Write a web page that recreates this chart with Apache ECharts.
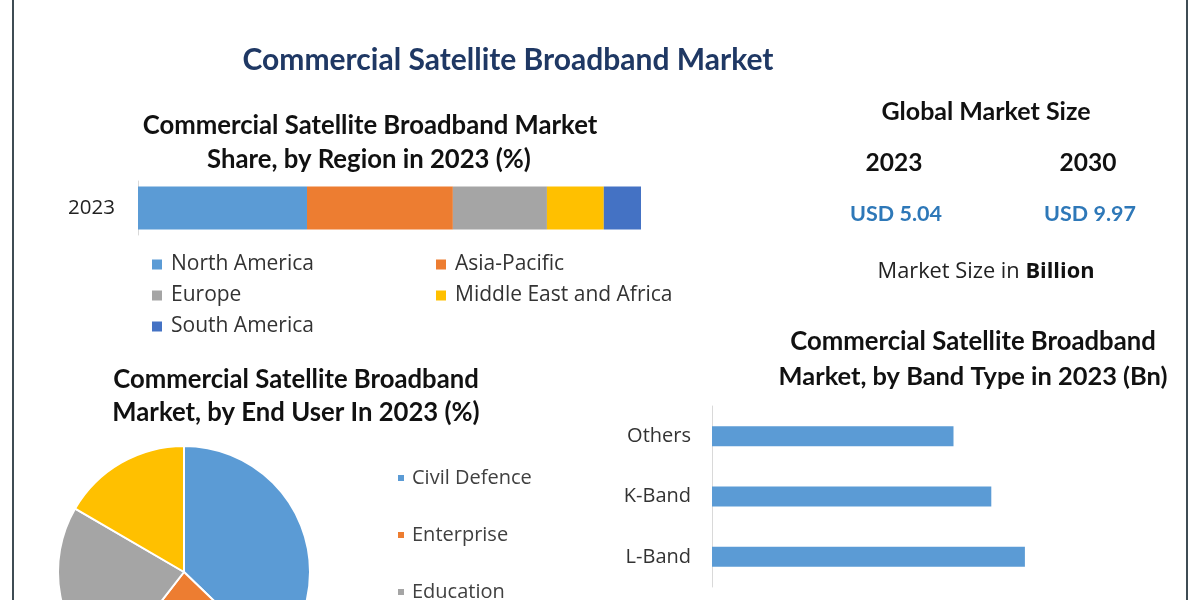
<!DOCTYPE html>
<html>
<head>
<meta charset="utf-8">
<title>Commercial Satellite Broadband Market</title>
<script src="https://cdn.jsdelivr.net/npm/echarts@6/dist/echarts.min.js"></script>
<style>
    html, body { margin: 0; padding: 0; background: #fff; }
    #main { width: 1200px; height: 600px; }
</style>
</head>
<body>
<div id="main"></div>
<script>
// share by region 2023 (%)
var regionYear = ["2023"];
var regions = ["North America", "Asia-Pacific", "Europe", "Middle East and Africa", "South America"];
var regionShare = [33.6, 29.0, 18.7, 11.3, 7.4];
var regionColors = ["#5b9bd5", "#ed7d31", "#a5a5a5", "#ffc000", "#4472c4"];

// share by end user 2023 (%)
var endUsers = ["Civil Defence", "Enterprise", "Education", "Others"];
var endUserShare = [37.2, 23.3, 22.9, 16.6];
var endUserColors = ["#5b9bd5", "#ed7d31", "#a5a5a5", "#ffc000"];

// band type 2023 (Bn)
var bands = ["Others", "K-Band", "L-Band"];
var bandValues = [1.15, 1.33, 1.49];

// global market size (USD Bn)
var sizeYears = ["2023", "2030"];
var sizeValues = [5.04, 9.97];

var boldFont = "Lato, sans-serif";
var font = "'Open Sans', sans-serif";

function txt(x, y, text, size, color) {
    return {
        type: "text", x: x, y: y, silent: true,
        style: {
            text: text, fill: color || "#111",
            font: "bold " + size + "px " + boldFont,
            align: "center", verticalAlign: "middle"
        }
    };
}

var myChart = echarts.init(document.getElementById("main"));

var regionSeries = regions.map(function (name, i) {
    return {
        type: "bar", name: name, stack: "region",
        xAxisIndex: 0, yAxisIndex: 0,
        barWidth: 43,
        itemStyle: { color: regionColors[i] },
        data: [regionShare[i]]
    };
});

var graphics = [
    { type: "line", silent: true, shape: { x1: 13, y1: 0, x2: 13, y2: 600 }, style: { stroke: "#3f4c54", lineWidth: 2 } },
    { type: "line", silent: true, shape: { x1: 1187, y1: 0, x2: 1187, y2: 600 }, style: { stroke: "#3f4c54", lineWidth: 2 } },
    txt(508, 60, "Commercial Satellite Broadband Market", 30, "#1f3864"),
    txt(370, 126, "Commercial Satellite Broadband Market", 25.7),
    txt(369, 160, "Share, by Region in 2023 (%)", 25.7),
    txt(986, 112, "Global Market Size", 25),
    txt(296, 380, "Commercial Satellite Broadband", 25.7),
    txt(296, 413, "Market, by End User In 2023 (%)", 25.7),
    txt(973, 342, "Commercial Satellite Broadband", 25.7),
    txt(973, 377, "Market, by Band Type in 2023 (Bn)", 25.4),
    {
        type: "text", x: 986, y: 272, silent: true,
        style: {
            text: "{a|Market Size in }{b|Billion}",
            align: "center", verticalAlign: "middle",
            rich: {
                a: { font: "normal 21.8px " + font, fill: "#222" },
                b: { font: "bold 21.8px " + font, fill: "#111" }
            }
        }
    }
];
var sizeX = [894, 1088];
sizeYears.forEach(function (y, i) {
    graphics.push(txt(sizeX[i], 163, y, 24.5));
    graphics.push(txt(sizeX[i] + 2, 214, "USD " + sizeValues[i].toFixed(2), 21.5, "#2e78b8"));
});

var option = {
    backgroundColor: "#fff",
    animation: false,
    textStyle: { fontFamily: font },
    grid: [
        { left: 138, top: 181, width: 503, height: 54 },
        { left: 712, top: 406, width: 420, height: 181 }
    ],
    xAxis: [
        { type: "value", gridIndex: 0, min: 0, max: 100, show: false },
        { type: "value", gridIndex: 1, min: 0, max: 2, show: false }
    ],
    yAxis: [
        {
            type: "category", gridIndex: 0, data: regionYear,
            axisLine: { lineStyle: { color: "#d9d9d9" } },
            axisTick: { show: false },
            axisLabel: { fontSize: 20.5, color: "#222", margin: 23 }
        },
        {
            type: "category", gridIndex: 1, data: bands, inverse: true,
            axisLine: { lineStyle: { color: "#d9d9d9" } },
            axisTick: { show: false },
            axisLabel: { fontSize: 20, color: "#333", margin: 21 }
        }
    ],
    legend: [
        {
            data: regions, left: 152, top: 254, width: 580, padding: 0,
            icon: "rect", itemWidth: 10, itemHeight: 10, itemGap: 10,
            selectedMode: false,
            textStyle: { fontSize: 21, color: "#333", width: 255, lineHeight: 21, padding: [0, 0, 0, 4] }
        },
        {
            data: endUsers, orient: "vertical", left: 396, top: 468, height: 300, padding: 0,
            icon: "rect", itemWidth: 8, itemHeight: 8, itemGap: 37,
            selectedMode: false,
            textStyle: { fontSize: 20, color: "#404040", lineHeight: 20, padding: [0, 0, 0, 2] }
        }
    ],
    series: regionSeries.concat([
        {
            type: "bar", name: "Band Type",
            xAxisIndex: 1, yAxisIndex: 1,
            barWidth: 20,
            itemStyle: { color: "#5b9bd5" },
            data: bandValues
        },
        {
            type: "pie", name: "End User",
            center: [184, 572], radius: 126,
            startAngle: 90, clockwise: true,
            label: { show: false }, labelLine: { show: false },
            itemStyle: { borderColor: "#fff", borderWidth: 2 },
            data: endUsers.map(function (n, i) {
                return { name: n, value: endUserShare[i], itemStyle: { color: endUserColors[i] } };
            })
        }
    ]),
    graphic: graphics
};
myChart.setOption(option);
</script>
</body>
</html>
